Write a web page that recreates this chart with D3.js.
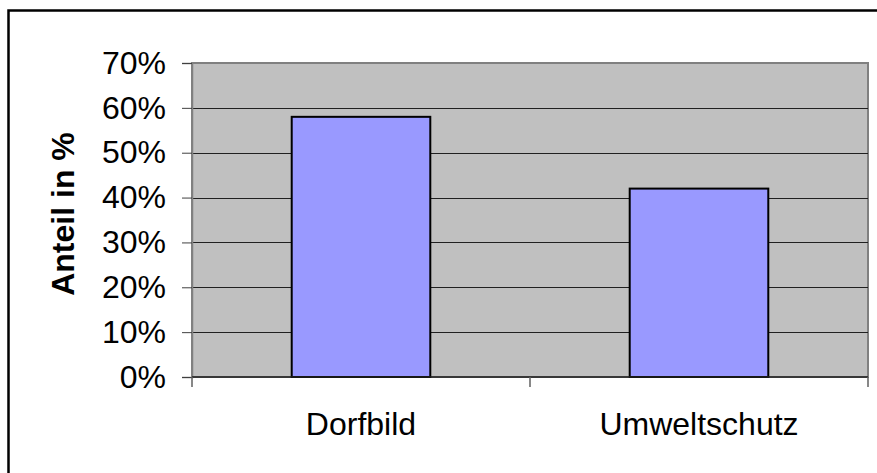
<!DOCTYPE html>
<html>
<head>
<meta charset="utf-8">
<script src="https://cdn.jsdelivr.net/npm/d3@7"></script>
<style>
  html, body { margin: 0; padding: 0; background: #fff; }
  svg { display: block; }
</style>
</head>
<body>
<div id="chart"></div>
<script>
// Anteil in % je Kategorie
var categories = ['Dorfbild', 'Umweltschutz'];
var values = [0.58, 0.42];
var yTicks = [0, 0.1, 0.2, 0.3, 0.4, 0.5, 0.6, 0.7];

var W = 877, H = 473;
var plot = { left: 192, top: 63, right: 868, bottom: 377 };

var svg = d3.select('#chart').append('svg')
  .attr('width', W)
  .attr('height', H);

// outer chart frame (runs off the right/bottom edge)
svg.append('rect')
  .attr('x', 8.5).attr('y', 10.5)
  .attr('width', 920).attr('height', 520)
  .attr('fill', 'none')
  .attr('stroke', '#000')
  .attr('stroke-width', 2.5);

var x = d3.scaleBand()
  .domain(categories)
  .range([plot.left, plot.right])
  .paddingInner(0.59)
  .paddingOuter(0.295);

var xOuter = d3.scaleBand()
  .domain(categories)
  .range([plot.left, plot.right]);

var y = d3.scaleLinear()
  .domain([0, 0.7])
  .range([plot.bottom, plot.top]);

// plot background
svg.append('rect')
  .attr('x', plot.left).attr('y', plot.top)
  .attr('width', plot.right - plot.left)
  .attr('height', plot.bottom - plot.top)
  .attr('fill', '#c0c0c0')
  .attr('stroke', '#808080')
  .attr('stroke-width', 2);

// gridlines
svg.append('g')
  .selectAll('line')
  .data(yTicks.filter(function(d) { return d > 0 && d < 0.7; }))
  .enter().append('line')
  .attr('x1', plot.left).attr('x2', plot.right)
  .attr('y1', function(d) { return Math.round(y(d)) + 0.5; })
  .attr('y2', function(d) { return Math.round(y(d)) + 0.5; })
  .attr('stroke', '#202020')
  .attr('stroke-width', 1);

// bars
svg.append('g')
  .selectAll('rect')
  .data(values)
  .enter().append('rect')
  .attr('x', function(d, i) { return x(categories[i]); })
  .attr('y', function(d) { return y(d); })
  .attr('width', x.bandwidth())
  .attr('height', function(d) { return plot.bottom - y(d); })
  .attr('fill', '#9999ff')
  .attr('stroke', '#000')
  .attr('stroke-width', 2);

// y axis
var yAxis = d3.axisLeft(y)
  .tickValues(yTicks)
  .tickSize(10)
  .tickPadding(16)
  .tickFormat(d3.format('.0%'));

var gy = svg.append('g')
  .attr('transform', 'translate(' + plot.left + ',0)')
  .call(yAxis);
gy.select('.domain').attr('stroke', '#808080').attr('stroke-width', 1.5);
gy.selectAll('.tick line').attr('stroke', '#404040');
gy.selectAll('.tick text')
  .attr('font-family', 'Arial, "Liberation Sans", sans-serif')
  .attr('font-size', '32px')
  .attr('fill', '#000');

// x axis with ticks on the category boundaries
var gx = svg.append('g')
  .attr('transform', 'translate(0,' + plot.bottom + ')');
gx.append('line')
  .attr('x1', plot.left).attr('x2', plot.right)
  .attr('stroke', '#202020').attr('stroke-width', 1.5);
gx.selectAll('line.tk')
  .data([plot.left].concat(categories.map(function(c) { return xOuter(c) + xOuter.bandwidth(); })))
  .enter().append('line')
  .attr('class', 'tk')
  .attr('x1', function(d) { return d; })
  .attr('x2', function(d) { return d; })
  .attr('y1', 0).attr('y2', 10)
  .attr('stroke', '#606060').attr('stroke-width', 1.5);
gx.selectAll('text')
  .data(categories)
  .enter().append('text')
  .attr('x', function(d) { return x(d) + x.bandwidth() / 2; })
  .attr('y', 58)
  .attr('text-anchor', 'middle')
  .attr('font-family', 'Arial, "Liberation Sans", sans-serif')
  .attr('font-size', '32px')
  .attr('fill', '#000')
  .text(function(d) { return d; });

// y axis title
svg.append('text')
  .attr('transform', 'translate(74,' + 214 + ') rotate(-90)')
  .attr('text-anchor', 'middle')
  .attr('font-family', 'Arial, "Liberation Sans", sans-serif')
  .attr('font-size', '32px')
  .attr('font-weight', 'bold')
  .attr('fill', '#000')
  .text('Anteil in %');
</script>
</body>
</html>
